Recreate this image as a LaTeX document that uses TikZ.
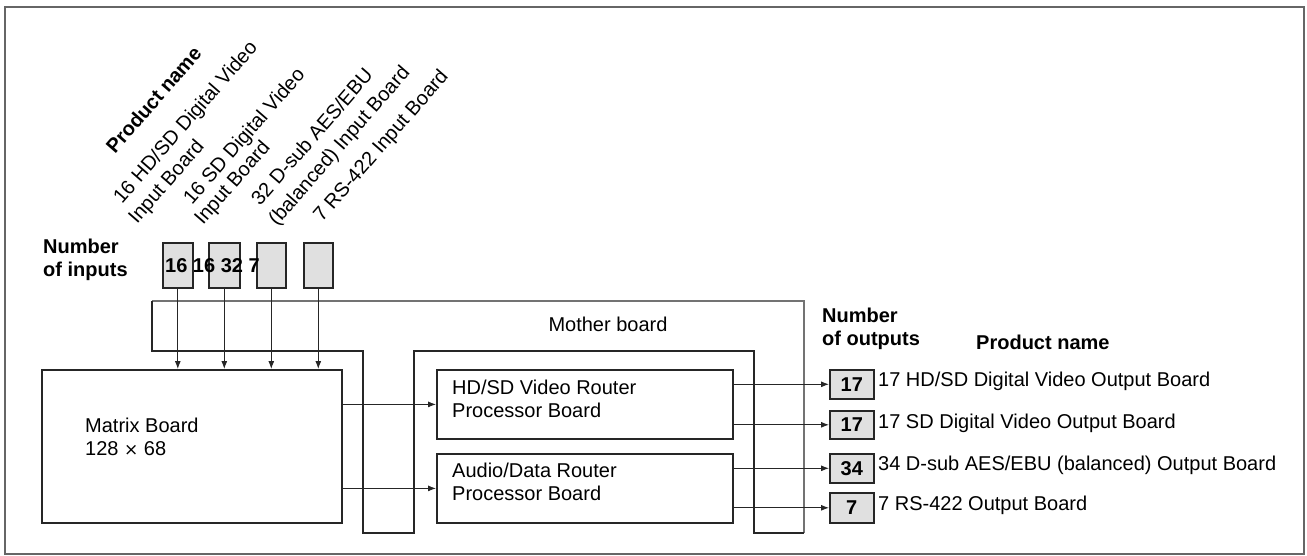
\documentclass[tikz,border=0pt]{standalone}
\usepackage{fontspec}
\setmainfont{Liberation Sans}
\usetikzlibrary{arrows.meta}
\tikzset{
  txt/.style={inner sep=0pt, font=\fontsize{20}{23}\selectfont, align=left},
  btxt/.style={txt, font=\fontsize{20}{23}\selectfont\bfseries},
  rtxt/.style={inner sep=0pt, font=\fontsize{20}{23}\selectfont, anchor=base west, rotate=49},
  board/.style={draw=black!85, line width=1.8pt, inner sep=0pt},
  thinline/.style={draw=black!55, line width=1.1pt},
  thickline/.style={draw=black!85, line width=2pt},
  inbox/.style={draw=black!85, line width=1.6pt, fill=black!12, minimum width=30pt, minimum height=45pt, inner sep=0pt},
  outbox/.style={draw=black!85, line width=1.6pt, fill=black!12, minimum width=44pt, minimum height=29pt, inner sep=0pt, font=\fontsize{20}{23}\selectfont\bfseries},
  arr/.style={draw=black!85, line width=0.9pt, -{Latex[length=8pt,width=6pt]}},
}
\begin{document}
\begin{tikzpicture}[x=1pt,y=-1pt]
\useasboundingbox (0,0) rectangle (1307,556);
% outer frame
\draw[black!60, line width=1.4pt] (5,7) rectangle (1304,554);

% rotated product-name labels
\node[rtxt, font=\fontsize{20}{23}\selectfont\bfseries] (pn1) at (115,155) {Product name};
\node[rtxt] (l1a) at (122,205) {16 HD/SD Digital Video};
\node[rtxt] (l1b) at (137,225) {Input Board};
\node[rtxt] (l2a) at (192,206) {16 SD Digital Video};
\node[rtxt] (l2b) at (203,226) {Input Board};
\node[rtxt] (l3a) at (260,207) {32 D-sub AES/EBU};
\node[rtxt] (l3b) at (277,227) {(balanced) Input Board};
\node[rtxt] (l4a) at (322,223) {7 RS-422 Input Board};

% number of inputs
\node[btxt, anchor=west] (noi) at (43,259.5) {Number\\of inputs};
\node[inbox, anchor=north west] (in1) at (162,242) {};
\node[inbox, anchor=north west, minimum width=31pt] (in2) at (208,242) {};
\node[inbox, anchor=north west, minimum width=29pt] (in3) at (256,242) {};
\node[inbox, anchor=north west, minimum width=29pt] (in4) at (303,242) {};
\node[btxt, anchor=west] (innum) at (165,266) {16 16 32 7};

% mother board outline: thin top and right, thick elsewhere
\draw[thinline] (152,301) -- (804,301) -- (804,533);
\draw[thickline, line join=miter] (804,533) -- (754,533) -- (754,351)
  -- (414,351) -- (414,533) -- (363,533) -- (363,351) -- (152,351) -- (152,301);
\node[txt] (mb) at (608,324) {Mother board};

% matrix board
\node[board, anchor=north west, minimum width=300pt, minimum height=153pt] (mat) at (41,369) {};
\node[txt, anchor=west] (matt) at (85,437) {Matrix Board\\128 {\fontspec{DejaVu Sans}\fontsize{17}{23}\selectfont×} 68};

% router boards
\node[board, anchor=north west, minimum width=296pt, minimum height=69pt] (hd) at (436,369) {};
\node[txt, anchor=west] (hdt) at (452,398.5) {HD/SD Video Router\\Processor Board};
\node[board, anchor=north west, minimum width=296pt, minimum height=69pt] (au) at (436,453) {};
\node[txt, anchor=west] (aut) at (452,482) {Audio/Data Router\\Processor Board};

% input arrows
\foreach \i in {1,2,3,4}{
  \draw[arr] (in\i.south) -- (in\i.south |- mat.north);
}
% matrix to routers
\draw[arr] (mat.east |- hd.west) -- (hd.west);
\draw[arr] (mat.east |- au.west) -- (au.west);

% outputs
\node[btxt, anchor=west] (noo) at (822,328.5) {Number\\of outputs};
\node[btxt, anchor=west] (pn2) at (976,342) {Product name};

\node[outbox, anchor=north west] (o1) at (829,369) {17};
\node[outbox, anchor=north west, minimum height=28pt] (o2) at (829,410) {17};
\node[outbox, anchor=north west] (o3) at (829,453) {34};
\node[outbox, anchor=north west, minimum height=30pt] (o4) at (829,492) {7};

\node[txt, anchor=west] (t1) at (878,381) {17 HD/SD Digital Video Output Board};
\node[txt, anchor=west] (t2) at (878,423) {17 SD Digital Video Output Board};
\node[txt, anchor=west] (t3) at (878,465) {34 D-sub AES/EBU (balanced) Output Board};
\node[txt, anchor=west] (t4) at (878,505) {7 RS-422 Output Board};

\draw[arr] (hd.east |- o1.west) -- (o1.west);
\draw[arr] (hd.east |- o2.west) -- (o2.west);
\draw[arr] (au.east |- o3.west) -- (o3.west);
\draw[arr] (au.east |- o4.west) -- (o4.west);
\end{tikzpicture}
\end{document}
